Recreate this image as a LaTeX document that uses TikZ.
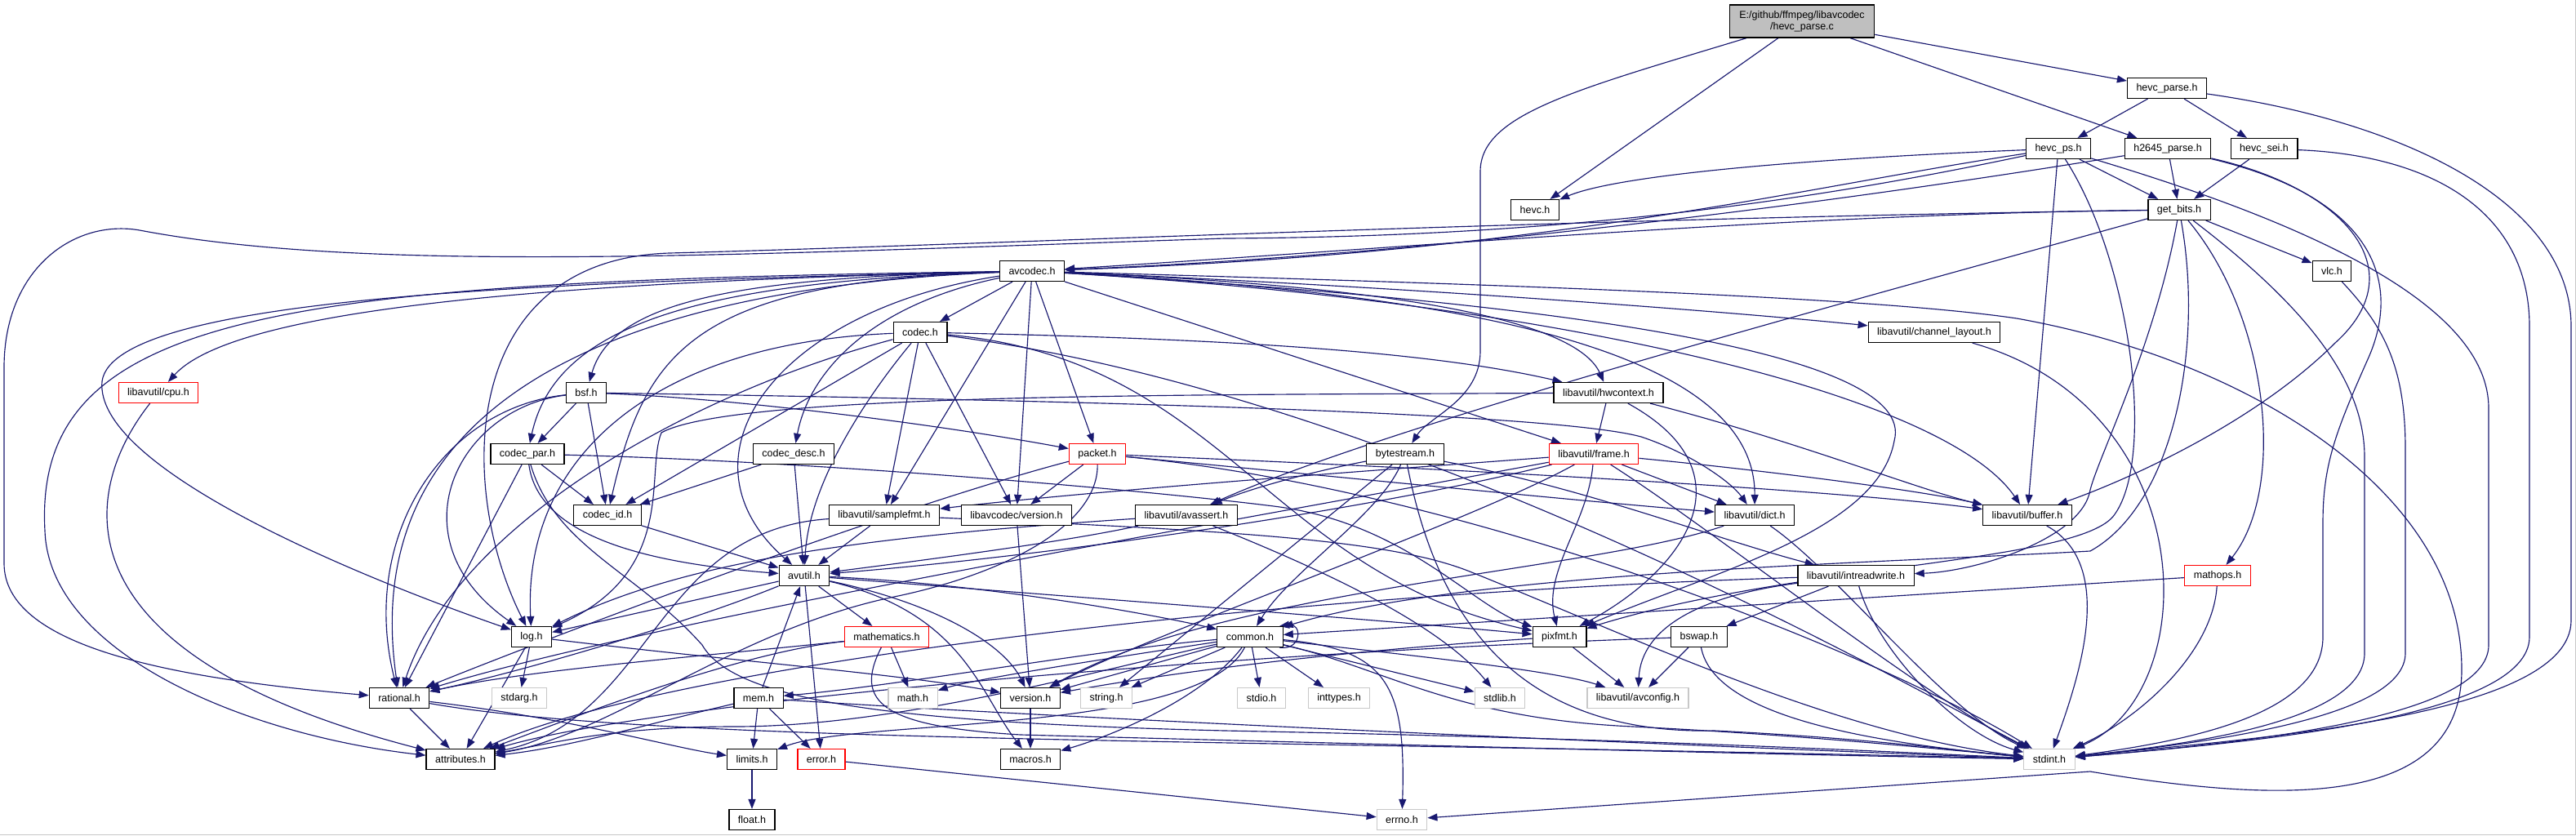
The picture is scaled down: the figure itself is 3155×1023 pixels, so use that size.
\documentclass[tikz,border=0pt]{standalone}
\usepackage{fontspec}
\setmainfont{Liberation Sans}
\usepackage{xcolor}
\usetikzlibrary{arrows.meta,backgrounds}

\definecolor{inclblue}{HTML}{191970}
\definecolor{srcgray}{HTML}{BFBFBF}
\definecolor{sysgray}{HTML}{C8C8C8}

\begin{document}
\begin{tikzpicture}[x=1pt, y=-1pt,
    hdr/.style={
      rectangle, draw=black, line width=1.2pt, fill=white,
      minimum height=25pt, inner xsep=11pt, inner ysep=0pt,
      font=\fontsize{12.5}{14}\selectfont
    },
    syshdr/.style={hdr, draw=sysgray},
    cuthdr/.style={hdr, draw=red},
    srcfile/.style={hdr, fill=srcgray, align=center, minimum height=40pt, inner xsep=12pt},
    incl/.style={-{Triangle[length=12pt,width=9pt]}, line width=1.15pt, color=inclblue}
  ]
  \useasboundingbox (0,0) rectangle (3155,1023);
  \draw[sysgray, line width=1pt] (0,1022) -- (3154,1022) -- (3154,0);

  % source file
  \node[srcfile] (root) at (2207,26) {E:/github/ffmpeg/libavcodec\\/hevc\_parse.c};

  % hevc headers
  \node[hdr] (hparseh) at (2654,108) {hevc\_parse.h};
  \node[hdr] (hps) at (2521,182) {hevc\_ps.h};
  \node[hdr] (h2645) at (2655,182) {h2645\_parse.h};
  \node[hdr] (hsei) at (2773,182) {hevc\_sei.h};
  \node[hdr] (hevch) at (1880,257) {hevc.h};
  \node[hdr] (getbits) at (2669,257) {get\_bits.h};
  \node[hdr] (vlc) at (2856,332) {vlc.h};

  % libavcodec
  \node[hdr] (avcodec) at (1264,332) {avcodec.h};
  \node[hdr] (chlayout) at (2369,407) {libavutil/channel\_layout.h};
  \node[hdr] (codec) at (1127,407) {codec.h};
  \node[cuthdr] (cpu) at (194,481) {libavutil/cpu.h};
  \node[hdr] (bsf) at (718,481) {bsf.h};
  \node[hdr] (hwctx) at (1970,481) {libavutil/hwcontext.h};
  \node[hdr] (codecpar) at (646,556) {codec\_par.h};
  \node[hdr] (codecdesc) at (972,556) {codec\_desc.h};
  \node[cuthdr] (packet) at (1344,556) {packet.h};
  \node[hdr] (bytestream) at (1721,556) {bytestream.h};
  \node[cuthdr] (frame) at (1952,556) {libavutil/frame.h};
  \node[hdr] (codecid) at (744,631) {codec\_id.h};
  \node[hdr] (samplefmt) at (1083,631) {libavutil/samplefmt.h};
  \node[hdr] (lavcver) at (1245,631) {libavcodec/version.h};
  \node[hdr] (avassert) at (1453,631) {libavutil/avassert.h};
  \node[hdr] (dict) at (2149,631) {libavutil/dict.h};
  \node[hdr] (buffer) at (2483,631) {libavutil/buffer.h};

  % libavutil
  \node[hdr] (avutil) at (985,705) {avutil.h};
  \node[hdr] (intrw) at (2273,705) {libavutil/intreadwrite.h};
  \node[cuthdr] (mathops) at (2716,705) {mathops.h};
  \node[hdr] (logh) at (651,780) {log.h};
  \node[cuthdr] (mathem) at (1086,780) {mathematics.h};
  \node[hdr] (common) at (1531,780) {common.h};
  \node[hdr] (pixfmt) at (1910,780) {pixfmt.h};
  \node[hdr] (bswap) at (2081,780) {bswap.h};
  \node[hdr] (rational) at (489,855) {rational.h};
  \node[syshdr] (stdarg) at (636,855) {stdarg.h};
  \node[hdr] (mem) at (929,855) {mem.h};
  \node[syshdr] (math) at (1118,855) {math.h};
  \node[hdr] (version) at (1262,855) {version.h};
  \node[syshdr] (string) at (1355,855) {string.h};
  \node[syshdr] (stdio) at (1545,855) {stdio.h};
  \node[syshdr] (inttypes) at (1640,855) {inttypes.h};
  \node[syshdr] (stdlib) at (1837,855) {stdlib.h};
  \node[syshdr] (avconfig) at (2006,855) {libavutil/avconfig.h};
  \node[hdr] (attributes) at (564,930) {attributes.h};
  \node[hdr] (limits) at (921,930) {limits.h};
  \node[cuthdr] (error) at (1006,930) {error.h};
  \node[hdr] (macros) at (1262,930) {macros.h};
  \node[syshdr] (stdint) at (2510,930) {stdint.h};
  \node[hdr] (float) at (921,1004) {float.h};
  \node[syshdr] (errno) at (1717,1004) {errno.h};

  \begin{scope}[on background layer]
  % hevc_parse.c
  \draw[incl] (root) -- (hevch);
  \draw[incl] (root) -- (hparseh);
  \draw[incl] (root) -- (h2645);
  \draw[incl] (root) .. controls (1930,110) and (1813,140) .. (1813,210) -- (1813,430) .. controls (1813,490) and (1750,510) .. (bytestream);

  % hevc_parse.h
  \draw[incl] (hparseh) -- (hps);
  \draw[incl] (hparseh) -- (hsei);
  \draw[incl] (hparseh) .. controls (2950,150) and (3149,250) .. (3149,400) -- (3149,760) .. controls (3149,880) and (2750,905) .. (stdint);

  % hevc_ps.h
  \draw[incl] (hps) .. controls (2200,195) and (1980,215) .. (hevch);
  \draw[incl] (hps) .. controls (2200,230) and (1900,310) .. (avcodec);
  \draw[incl] (hps) -- (getbits);
  \draw[incl] (hps) -- (buffer);
  \draw[incl] (hps) .. controls (2610,320) and (2640,560) .. (2590,630) .. controls (2550,690) and (2200,690) .. (pixfmt);
  \draw[incl] (hps) .. controls (2850,280) and (3048,380) .. (3048,500) -- (3048,790) .. controls (3048,880) and (2750,910) .. (stdint);
  \draw[incl] (hps) .. controls (2200,250) and (1900,290) .. (1500,292) .. controls (900,312) and (450,335) .. (171,282) .. controls (90,268) and (5,330) .. (5,450) -- (5,690) .. controls (5,790) and (200,830) .. (rational);

  % h2645_parse.h
  \draw[incl] (h2645) -- (getbits);
  \draw[incl] (h2645) .. controls (2300,240) and (1800,310) .. (avcodec);
  \draw[incl] (h2645) .. controls (2870,230) and (2960,330) .. (2860,420) .. controls (2760,520) and (2600,590) .. (buffer);
  \draw[incl] (h2645) .. controls (2900,240) and (2945,340) .. (2900,440) .. controls (2860,530) and (2845,570) .. (2845,640) -- (2845,780) .. controls (2845,870) and (2700,905) .. (stdint);

  % hevc_sei.h
  \draw[incl] (hsei) -- (getbits);
  \draw[incl] (hsei) .. controls (2980,190) and (3098,260) .. (3098,400) -- (3098,780) .. controls (3098,880) and (2750,910) .. (stdint);

  % get_bits.h
  \draw[incl] (getbits) -- (vlc);
  \draw[incl] (getbits) .. controls (2200,262) and (1700,305) .. (avcodec);
  \draw[incl] (getbits) .. controls (1900,268) and (1200,300) .. (820,310) .. controls (560,318) and (560,600) .. (logh);
  \draw[incl] (getbits) .. controls (2300,360) and (1700,520) .. (avassert);
  \draw[incl] (getbits) .. controls (2700,430) and (2660,620) .. (2560,675) .. controls (2300,690) and (1800,700) .. (common);
  \draw[incl] (getbits) .. controls (2640,420) and (2570,560) .. (2560,600) .. controls (2550,660) and (2420,700) .. (intrw);
  \draw[incl] (getbits) .. controls (2780,390) and (2800,600) .. (mathops);
  \draw[incl] (getbits) .. controls (2830,380) and (2896,470) .. (2896,560) -- (2896,800) .. controls (2896,880) and (2700,910) .. (stdint);

  % vlc.h
  \draw[incl] (vlc) .. controls (2920,400) and (2946,450) .. (2946,550) -- (2946,800) .. controls (2946,880) and (2700,910) .. (stdint);

  % avcodec.h
  \draw[incl] (avcodec) -- (codec);
  \draw[incl] (avcodec) -- (samplefmt);
  \draw[incl] (avcodec) -- (lavcver);
  \draw[incl] (avcodec) -- (packet);
  \draw[incl] (avcodec) -- (frame);
  \draw[incl] (avcodec) .. controls (1060,375) and (990,460) .. (codecdesc);
  \draw[incl] (avcodec) .. controls (950,380) and (820,560) .. (avutil);
  \draw[incl] (avcodec) .. controls (850,345) and (790,430) .. (codecid);
  \draw[incl] (avcodec) .. controls (900,340) and (750,370) .. (bsf);
  \draw[incl] (avcodec) .. controls (850,345) and (680,400) .. (codecpar);
  \draw[incl] (avcodec) .. controls (700,355) and (440,520) .. (rational);
  \draw[incl] (avcodec) .. controls (700,345) and (140,360) .. (125,467) .. controls (115,570) and (420,700) .. (logh);
  \draw[incl] (avcodec) .. controls (350,345) and (40,380) .. (55,650) .. controls (60,800) and (300,900) .. (attributes);
  \draw[incl] (avcodec) .. controls (700,345) and (290,375) .. (cpu);
  \draw[incl] (avcodec) .. controls (1700,350) and (2100,380) .. (chlayout);
  \draw[incl] (avcodec) .. controls (1700,350) and (1930,390) .. (hwctx);
  \draw[incl] (avcodec) .. controls (1800,360) and (2150,430) .. (dict);
  \draw[incl] (avcodec) .. controls (1900,370) and (2350,430) .. (2320,540) .. controls (2300,650) and (2100,700) .. (pixfmt);
  \draw[incl] (avcodec) .. controls (1900,370) and (2380,480) .. (buffer);
  \draw[incl] (avcodec) .. controls (1900,350) and (2300,365) .. (2470,390) .. controls (2750,440) and (3015,600) .. (3015,820) .. controls (3015,990) and (2800,985) .. (2560,945) -- (errno);

  % codec.h
  \draw[incl] (codec) -- (samplefmt);
  \draw[incl] (codec) -- (lavcver);
  \draw[incl] (codec) -- (codecid);
  \draw[incl] (codec) .. controls (1050,500) and (990,600) .. (avutil);
  \draw[incl] (codec) .. controls (800,420) and (640,560) .. (logh);
  \draw[incl] (codec) .. controls (850,480) and (560,640) .. (rational);
  \draw[incl] (codec) .. controls (1500,415) and (1750,430) .. (hwctx);
  \draw[incl] (codec) .. controls (1500,440) and (1550,700) .. (pixfmt);
  \draw[incl] (codec) .. controls (1700,480) and (2300,820) .. (stdint);

  % codec_desc.h, codec_par.h, codec_id.h
  \draw[incl] (codecdesc) -- (codecid);
  \draw[incl] (codecdesc) -- (avutil);
  \draw[incl] (codecpar) -- (codecid);
  \draw[incl] (codecpar) -- (rational);
  \draw[incl] (codecpar) .. controls (660,660) and (800,690) .. (avutil);
  \draw[incl] (codecpar) .. controls (1000,565) and (1400,600) .. (1560,620) .. controls (1720,640) and (1800,740) .. (pixfmt);
  \draw[incl] (codecpar) .. controls (680,670) and (780,700) .. (860,790) .. controls (900,860) and (1100,885) .. (1500,895) .. controls (2000,905) and (2300,920) .. (stdint);
  \draw[incl] (codecid) -- (avutil);

  % bsf.h
  \draw[incl] (bsf) -- (codecpar);
  \draw[incl] (bsf) -- (codecid);
  \draw[incl] (bsf) .. controls (900,488) and (1150,520) .. (packet);
  \draw[incl] (bsf) .. controls (1300,490) and (1900,505) .. (2010,535) .. controls (2070,555) and (2120,590) .. (dict);
  \draw[incl] (bsf) .. controls (560,500) and (480,660) .. (logh);
  \draw[incl] (bsf) .. controls (540,500) and (440,660) .. (rational);

  % packet.h
  \draw[incl] (packet) -- (lavcver);
  \draw[incl] (packet) .. controls (1800,575) and (2250,600) .. (buffer);
  \draw[incl] (packet) .. controls (1700,590) and (1950,615) .. (dict);
  \draw[incl] (packet) .. controls (1800,600) and (2300,800) .. (stdint);
  \draw[incl] (packet) .. controls (1100,620) and (700,770) .. (rational);
  \draw[incl] (packet) .. controls (1345,640) and (1240,700) .. (1100,730) .. controls (900,770) and (750,900) .. (attributes);

  % samplefmt.h, version.h, avassert.h
  \draw[incl] (samplefmt) -- (avutil);
  \draw[incl] (samplefmt) .. controls (800,650) and (800,880) .. (attributes);
  \draw[incl] (samplefmt) .. controls (1500,650) and (1700,660) .. (1800,700) .. controls (2000,780) and (2250,900) .. (stdint);
  \draw[incl] (lavcver) -- (version);
  \draw[incl] (avassert) .. controls (1300,665) and (1100,690) .. (avutil);
  \draw[incl] (avassert) .. controls (1100,655) and (850,680) .. (logh);
  \draw[incl] (avassert) .. controls (1600,690) and (1760,760) .. (stdlib);

  % bytestream.h
  \draw[incl] (bytestream) .. controls (1620,575) and (1540,595) .. (avassert);
  \draw[incl] (bytestream) .. controls (1690,630) and (1580,700) .. (common);
  \draw[incl] (bytestream) -- (string);
  \draw[incl] (bytestream) .. controls (1950,600) and (2100,660) .. (intrw);
  \draw[incl] (bytestream) .. controls (1760,760) and (1860,900) .. (2100,895) .. controls (2300,905) and (2400,920) .. (stdint);

  % hwcontext.h, frame.h
  \draw[incl] (hwctx) -- (frame);
  \draw[incl] (hwctx) .. controls (2200,540) and (2350,600) .. (buffer);
  \draw[incl] (hwctx) .. controls (2150,580) and (2060,700) .. (pixfmt);
  \draw[incl] (hwctx) .. controls (1500,484) and (900,480) .. (810,530) .. controls (790,580) and (830,700) .. (logh);
  \draw[incl] (frame) .. controls (1700,575) and (1350,600) .. (samplefmt);
  \draw[incl] (frame) .. controls (1700,620) and (1300,680) .. (avutil);
  \draw[incl] (frame) .. controls (1500,640) and (800,760) .. (rational);
  \draw[incl] (frame) .. controls (1945,640) and (1890,700) .. (pixfmt);
  \draw[incl] (frame) -- (dict);
  \draw[incl] (frame) .. controls (2150,575) and (2350,600) .. (buffer);
  \draw[incl] (frame) .. controls (1800,640) and (1400,780) .. (version);
  \draw[incl] (frame) .. controls (2100,650) and (2350,850) .. (stdint);

  % dict.h, buffer.h, channel_layout.h
  \draw[incl] (dict) .. controls (1950,700) and (1500,720) .. (version);
  \draw[incl] (dict) .. controls (2250,700) and (2380,870) .. (stdint);
  \draw[incl] (buffer) .. controls (2590,690) and (2550,820) .. (stdint);
  \draw[incl] (chlayout) .. controls (2700,500) and (2700,850) .. (stdint);

  % avutil.h
  \draw[incl] (avutil) -- (mathem);
  \draw[incl] (avutil) -- (error);
  \draw[incl] (avutil) .. controls (1150,740) and (1230,790) .. (version);
  \draw[incl] (avutil) .. controls (1180,750) and (1200,850) .. (macros);
  \draw[incl] (avutil) .. controls (1200,715) and (1400,750) .. (common);
  \draw[incl] (avutil) -- (logh);
  \draw[incl] (avutil) .. controls (850,760) and (650,820) .. (rational);
  \draw[incl] (avutil) .. controls (1300,730) and (1700,760) .. (pixfmt);

  % mathematics.h, mem.h
  \draw[incl] (mathem) -- (math);
  \draw[incl] (mathem) .. controls (900,800) and (700,880) .. (attributes);
  \draw[incl] (mathem) .. controls (850,805) and (650,820) .. (rational);
  \draw[incl] (mathem) .. controls (1045,860) and (1080,890) .. (1250,900) .. controls (1700,912) and (2200,925) .. (stdint);
  \draw[incl] (mem) -- (avutil);
  \draw[incl] (mem) -- (limits);
  \draw[incl] (mem) -- (error);
  \draw[incl] (mem) .. controls (800,885) and (700,915) .. (attributes);
  \draw[incl] (mem) .. controls (1300,880) and (2100,915) .. (stdint);

  % common.h
  \draw[incl] (common) -- (version);
  \draw[incl] (common) -- (string);
  \draw[incl] (common) -- (stdio);
  \draw[incl] (common) -- (inttypes);
  \draw[incl] (common) -- (stdlib);
  \draw[incl] (common) .. controls (1700,795) and (1722,840) .. (errno);
  \draw[incl] (common) .. controls (1700,800) and (1900,820) .. (avconfig);
  \draw[incl] (common) .. controls (1400,800) and (1200,830) .. (math);
  \draw[incl] (common) .. controls (1350,795) and (1100,840) .. (mem);
  \draw[incl] (common) .. controls (1470,900) and (1050,880) .. (limits);
  \draw[incl] (common) .. controls (1470,860) and (1350,905) .. (macros);
  \draw[incl] (common) .. controls (1350,820) and (1100,890) .. (900,890) .. controls (750,890) and (680,910) .. (attributes);
  \draw[incl] (common) .. controls (1700,820) and (1780,880) .. (2000,890) .. controls (2200,900) and (2350,915) .. (stdint);
  \draw[incl] (common.-20) .. controls +(28,4) and +(28,-4) .. (common.20);

  % mathops.h, intreadwrite.h, bswap.h, pixfmt.h
  \draw[incl] (mathops) -- (common);
  \draw[incl] (mathops) .. controls (2710,800) and (2620,880) .. (stdint);
  \draw[incl] (intrw) -- (bswap);
  \draw[incl] (intrw) .. controls (2080,730) and (2010,770) .. (avconfig);
  \draw[incl] (intrw) .. controls (1500,730) and (800,820) .. (attributes);
  \draw[incl] (intrw) .. controls (2300,800) and (2400,900) .. (stdint);
  \draw[incl] (bswap) -- (avconfig);
  \draw[incl] (bswap) .. controls (1500,800) and (800,860) .. (attributes);
  \draw[incl] (bswap) .. controls (2100,880) and (2300,910) .. (stdint);
  \draw[incl] (pixfmt) -- (avconfig);
  \draw[incl] (pixfmt) .. controls (1600,800) and (1400,830) .. (version);

  % log.h, rational.h, cpu.h and the rest
  \draw[incl] (logh) -- (stdarg);
  \draw[incl] (logh) -- (attributes);
  \draw[incl] (logh) .. controls (900,810) and (1100,825) .. (version);
  \draw[incl] (rational) -- (attributes);
  \draw[incl] (rational) .. controls (700,880) and (820,915) .. (limits);
  \draw[incl] (rational) .. controls (800,910) and (1500,905) .. (stdint);
  \draw[incl] (cpu) .. controls (100,600) and (60,800) .. (attributes);
  \draw[incl] (error) -- (errno);
  \draw[incl] (limits) -- (float);
  \draw[incl] (version) -- (macros);
  \end{scope}

\end{tikzpicture}
\end{document}
